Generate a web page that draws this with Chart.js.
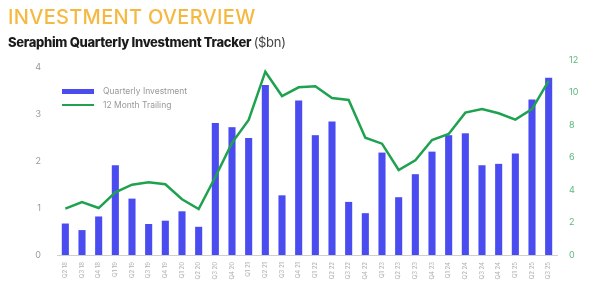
<!DOCTYPE html>
<html>
<head>
<meta charset="utf-8">
<script src="https://cdn.jsdelivr.net/npm/chart.js@4/dist/chart.umd.min.js"></script>
<style>
  html, body { margin: 0; padding: 0; background: #fff; }
  #wrap { position: relative; width: 600px; height: 285px; overflow: hidden; }
  #title { position: absolute; left: 8px; top: 5px; font-family: Inter, sans-serif; font-weight: 500; font-size: 20px; color: #f5b942; letter-spacing: 0.3px; }
  #sub { position: absolute; left: 8px; top: 34px; font-family: Inter, sans-serif; font-weight: 800; font-size: 13px; color: #1a1a1a; letter-spacing: -0.3px; }
  #sub span { font-weight: 400; color: #444; }
  #legend { position: absolute; left: 62px; top: 84px; font-family: Inter, sans-serif; font-size: 8.5px; color: #999; }
  .row { display: flex; align-items: center; height: 14px; }
  .sw { width: 32px; margin-right: 9px; }
  canvas { position: absolute; left: 0; top: 0; }
</style>
</head>
<body>
<div id="wrap">
  <canvas id="chart" width="600" height="285"></canvas>
  <div id="title">INVESTMENT OVERVIEW</div>
  <div id="sub">Seraphim Quarterly Investment Tracker <span>($bn)</span></div>
  <div id="legend">
    <div class="row"><div class="sw" style="height:5px;background:#4a4cf0"></div>Quarterly Investment</div>
    <div class="row"><div class="sw" style="height:2.5px;background:#1fa24f"></div>12 Month Trailing</div>
  </div>
</div>
<script>
const quarters = ['Q2 18','Q3 18','Q4 18','Q1 19','Q2 19','Q3 19','Q4 19','Q1 20','Q2 20','Q3 20',
  'Q4 20','Q1 21','Q2 21','Q3 21','Q4 21','Q1 22','Q2 22','Q3 22','Q4 22','Q1 23',
  'Q2 23','Q3 23','Q4 23','Q1 24','Q2 24','Q3 24','Q4 24','Q1 25','Q2 25','Q3 25'];

const quarterly = [0.67, 0.53, 0.82, 1.91, 1.20, 0.66, 0.73, 0.93, 0.60, 2.81,
  2.72, 2.49, 3.62, 1.27, 3.29, 2.55, 2.84, 1.13, 0.89, 2.18,
  1.23, 1.72, 2.20, 2.55, 2.59, 1.91, 1.94, 2.16, 3.31, 3.77];

const trailing = [2.85, 3.26, 2.89, 3.86, 4.33, 4.47, 4.35, 3.43, 2.83, 4.80,
  6.90, 8.31, 11.28, 9.78, 10.32, 10.38, 9.66, 9.54, 7.22, 6.85,
  5.23, 5.83, 7.08, 7.45, 8.76, 8.98, 8.72, 8.33, 8.98, 10.71];

const leftTicks = [0, 1, 2, 3, 4];
const rightTicks = [0, 2, 4, 6, 8, 10, 12];

new Chart(document.getElementById('chart'), {
  data: {
    labels: quarters,
    datasets: [
      {
        type: 'line',
        label: '12 Month Trailing',
        data: trailing,
        yAxisID: 'y1',
        borderColor: '#1fa24f',
        borderWidth: 2.5,
        pointRadius: 0,
        tension: 0,
        order: 0
      },
      {
        type: 'bar',
        label: 'Quarterly Investment',
        data: quarterly,
        yAxisID: 'y',
        backgroundColor: '#4a4cf0',
        barPercentage: 0.85,
        categoryPercentage: 0.5,
        order: 1
      }
    ]
  },
  options: {
    responsive: false,
    animation: false,
    layout: { padding: { top: 60, left: 0, right: 0, bottom: 2 } },
    plugins: { legend: { display: false }, tooltip: { enabled: false } },
    scales: {
      x: {
        grid: { display: false, drawTicks: false },
        border: { color: '#cfcfcf', width: 1 },
        ticks: { minRotation: 90, maxRotation: 90, autoSkip: false, padding: 7,
          color: '#b0b0b0', font: { family: 'Inter', size: 6 } },
        afterFit: s => { s.height = 28; }
      },
      y: {
        position: 'left',
        min: 0, max: 4.15,
        afterBuildTicks: s => { s.ticks = leftTicks.map(v => ({ value: v })); },
        grid: { display: false, drawTicks: false },
        border: { display: false },
        ticks: { padding: 16, color: '#999', font: { family: 'Inter', size: 9 } },
        afterFit: s => { s.width = 57; }
      },
      y1: {
        position: 'right',
        min: 0, max: 12,
        afterBuildTicks: s => { s.ticks = rightTicks.map(v => ({ value: v })); },
        grid: { display: false, drawTicks: false },
        border: { display: false },
        ticks: { padding: 12, color: '#5cb87a', font: { family: 'Inter', size: 9 } },
        afterFit: s => { s.width = 43; }
      }
    }
  }
});
</script>
</body>
</html>
